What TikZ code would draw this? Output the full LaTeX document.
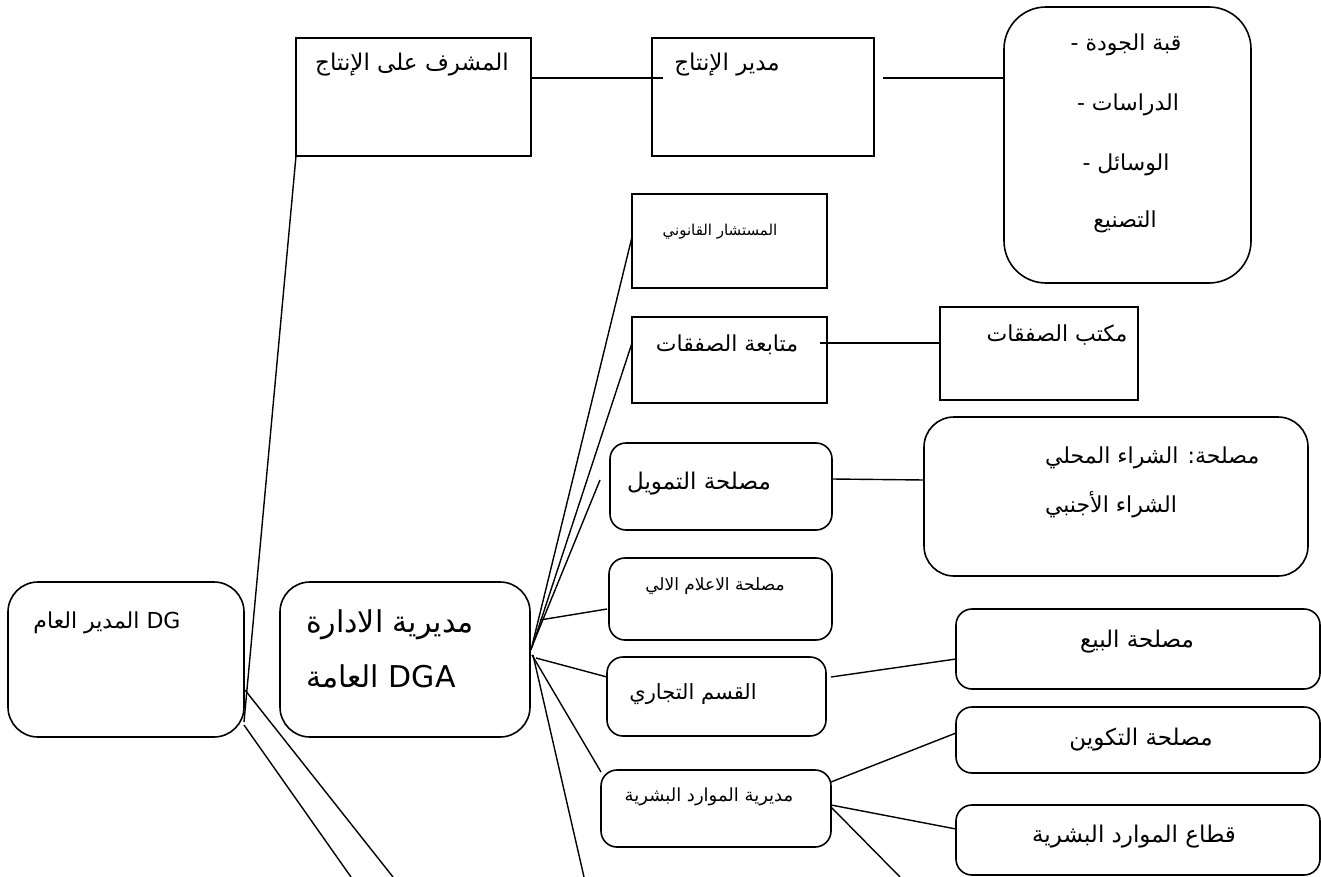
\documentclass[tikz,border=0pt]{standalone}
\usepackage{fontspec}
\usetikzlibrary{calc}
\newfontfamily\ar[Script=Arabic]{DejaVu Sans}
\TeXXeTstate=1
\tikzset{
  base/.style={draw=black, line width=1.6pt, inner sep=0pt, outer sep=0pt},
  sbox/.style={base, rectangle},
  rbox/.style={base, rectangle, rounded corners=#1},
  rbox/.default=16pt,
  conn/.style={draw=black, line width=1.4pt},
  txt/.style={inner sep=0pt, outer sep=0pt, font=\ar\fontsize{#1}{#1}\selectfont},
  txt/.default=18,
}
\begin{document}
\begin{tikzpicture}[x=1pt,y=-1pt]
\useasboundingbox (0,0) rectangle (1321,877);
% ---------- boxes ----------
\node[rbox=30pt, minimum width=236pt, minimum height=155pt] (dg) at (126,659.5) {};
\node[rbox=30pt, minimum width=250pt, minimum height=155pt] (dga) at (405,659.5) {};
\node[sbox, minimum width=235pt, minimum height=118pt] (mushrif) at (413.5,97) {};
\node[sbox, minimum width=222pt, minimum height=118pt] (mudir) at (763,97) {};
\node[rbox=42pt, minimum width=247pt, minimum height=276pt] (quality) at (1127.5,145) {};
\node[sbox, minimum width=195pt, minimum height=94pt] (mustashar) at (729.5,241) {};
\node[sbox, minimum width=195pt, minimum height=86pt] (mutabaa) at (729.5,360) {};
\node[sbox, minimum width=198pt, minimum height=93pt] (maktab) at (1039,353.5) {};
\node[rbox=16pt, minimum width=222pt, minimum height=87pt] (tamwil) at (721,486.5) {};
\node[rbox=30pt, minimum width=384pt, minimum height=159pt] (shiraa) at (1116,496.5) {};
\node[rbox=16pt, minimum width=223pt, minimum height=82pt] (ielam) at (720.5,599) {};
\node[rbox=16pt, minimum width=219pt, minimum height=79pt] (qism) at (716.5,696.5) {};
\node[rbox=16pt, minimum width=364pt, minimum height=80pt] (bay) at (1138,649) {};
\node[rbox=16pt, minimum width=364pt, minimum height=66pt] (takwin) at (1138,740) {};
\node[rbox=16pt, minimum width=230pt, minimum height=77pt] (mawarid) at (716,808.5) {};
\node[rbox=16pt, minimum width=364pt, minimum height=70pt] (qitaa) at (1138,840) {};
% ---------- texts ----------
\node[txt=22] (dgT) at (107,623) {\beginR\beginL DG\endL{} المدير العام\endR};
\node[txt=30, anchor=west] (dgaT1) at (306,625) {\beginR مديرية الادارة\endR};
\node[txt=30, anchor=west] (dgaT2) at (306,676) {\beginR\beginL DGA\endL{} العامة\endR};
\node[txt=23] (mushrifT) at (412,65) {\beginR المشرف على الإنتاج\endR};
\node[txt=23] (mudirT) at (727,65) {\beginR مدير الإنتاج\endR};
\node[txt=22] (qT1) at (1126,45) {- \beginR قبة الجودة\endR};
\node[txt=22] (qT2) at (1128,105) {- \beginR الدراسات\endR};
\node[txt=22] (qT3) at (1126,165) {- \beginR الوسائل\endR};
\node[txt=22] (qT4) at (1125,222) {\beginR التصنيع\endR};
\node[txt=15] (mustasharT) at (720,232) {\beginR المستشار القانوني\endR};
\node[txt=22] (mutabaaT) at (727,345) {\beginR متابعة الصفقات\endR};
\node[txt=22] (maktabT) at (1057,335) {\beginR مكتب الصفقات\endR};
\node[txt=23] (tamwilT) at (699,484) {\beginR مصلحة التمويل\endR};
\node[txt=22, anchor=west] (shiraaT1) at (1045,458) {\beginR مصلحة: الشراء المحلي\endR};
\node[txt=22, anchor=west] (shiraaT2) at (1045,505) {\beginR الشراء الأجنبي\endR};
\node[txt=17] (ielamT) at (715,586) {\beginR مصلحة الاعلام الالي\endR};
\node[txt=21] (qismT) at (693,694) {\beginR القسم التجاري\endR};
\node[txt=23] (bayT) at (1137,642) {\beginR مصلحة البيع\endR};
\node[txt=23] (takwinT) at (1141,740) {\beginR مصلحة التكوين\endR};
\node[txt=23] (qitaaT) at (1134,837) {\beginR قطاع الموارد البشرية\endR};
\node[txt=18] (mawaridT) at (709,797) {\beginR مديرية الموارد البشرية\endR};
% ---------- off-page ends ----------
\coordinate (offA) at (393,877);
\coordinate (offB) at (351,877);
\coordinate (offC) at (584,877);
\coordinate (offD) at (900,877);
% ---------- connectors ----------
\draw[conn] ([yshift=-62.5pt]dg.east) -- (mushrif.south west);
\draw[conn] ([xshift=1pt,yshift=-30.5pt]dg.east) -- (offA);
\draw[conn] ([yshift=-65.5pt]dg.east) -- (offB);
\draw[conn] ([yshift=19pt]mushrif.east) -- ([xshift=11pt,yshift=19pt]mudir.west);
\draw[conn] ([xshift=9pt,yshift=19pt]mudir.east) -- ([yshift=67pt]quality.west);
\draw[conn] ([xshift=1pt,yshift=9.5pt]dga.east) -- ([yshift=4pt]mustashar.west);
\draw[conn] ([xshift=2pt,yshift=12pt]dga.east) -- ([yshift=17pt]mutabaa.west);
\draw[conn] ([xshift=4pt,yshift=18pt]dga.east) -- ([xshift=-10pt,yshift=6.5pt]tamwil.west);
\draw[conn] ([xshift=10pt,yshift=39.5pt]dga.east) -- ([xshift=-2pt,yshift=-10pt]ielam.west);
\draw[conn] ([xshift=6pt,yshift=1.5pt]dga.east) -- ([yshift=19.5pt]qism.west);
\draw[conn] ([xshift=2pt,yshift=4.5pt]dga.east) -- ([yshift=-2pt]mawarid.north west);
\draw[conn] ([xshift=3pt,yshift=4.5pt]dga.east) -- (offC);
\draw[conn] ([xshift=-7pt,yshift=17pt]mutabaa.east) -- ([yshift=10.5pt]maktab.west);
\draw[conn] ([yshift=7.5pt]tamwil.east) -- ([yshift=16.5pt]shiraa.west);
\draw[conn] ([xshift=5pt,yshift=19.5pt]qism.east) -- ([yshift=-10pt]bay.east -| bay.west);
\draw[conn] ([yshift=26.5pt]mawarid.east) -- ([yshift=7pt]takwin.west);
\draw[conn] ([yshift=3.5pt]mawarid.east) -- ([yshift=11pt]qitaa.west);
\draw[conn] ([yshift=1.5pt]mawarid.east) -- (offD);
\end{tikzpicture}
\end{document}
